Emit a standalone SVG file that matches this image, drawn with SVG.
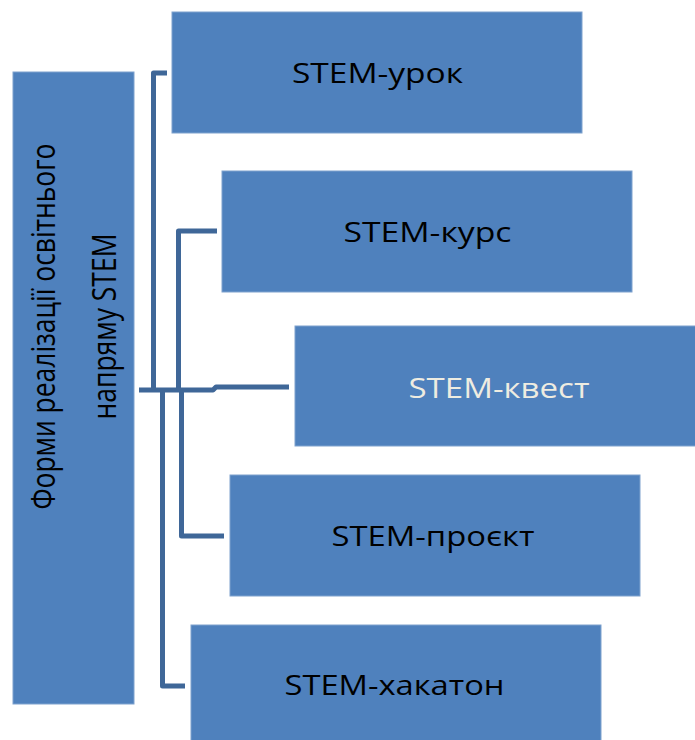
<svg xmlns="http://www.w3.org/2000/svg" width="695" height="740" viewBox="0 0 695 740">
<style>
.box{fill:#4F81BD;stroke:#7FA2CE;stroke-width:1}
.lbl{font-family:"Open Sans","Liberation Sans",sans-serif;font-size:28px;fill:#000;text-anchor:middle}
.vert{font-size:32px}
.light{fill:#EEECE1}
.conn{fill:none;stroke:#3F6798;stroke-width:5;stroke-linejoin:round}
</style>
<rect width="695" height="740" fill="#fff"/>
<g id="connectors">
<path class="conn" d="M139,390 H213 L216,387 H289"/>
<path class="conn" d="M153.5,390 V73 H167"/>
<path class="conn" d="M178.5,390 V231 H217"/>
<path class="conn" d="M181.5,390 V536 H224"/>
<path class="conn" d="M162.5,390 V686 H185"/>
</g>
<g id="root">
<rect class="box" x="13" y="72" width="121" height="632"/>
<text class="lbl vert" transform="translate(55,326.5) rotate(-90)" textLength="366" lengthAdjust="spacingAndGlyphs">Форми реалізації освітнього</text>
<text class="lbl vert" transform="translate(116,326.5) rotate(-90)" textLength="186" lengthAdjust="spacingAndGlyphs">напряму STEM</text>
</g>
<g id="n1">
<rect class="box" x="172" y="12" width="410" height="121"/>
<text class="lbl" x="377.5" y="83" textLength="171" lengthAdjust="spacingAndGlyphs">STEM-урок</text>
</g>
<g id="n2">
<rect class="box" x="222" y="171" width="410" height="121"/>
<text class="lbl" x="427.5" y="242" textLength="168" lengthAdjust="spacingAndGlyphs">STEM-курс</text>
</g>
<g id="n3">
<rect class="box" x="295" y="326" width="401" height="120"/>
<text class="lbl light" x="499" y="398" textLength="181" lengthAdjust="spacingAndGlyphs">STEM-квест</text>
</g>
<g id="n4">
<rect class="box" x="230" y="475" width="410" height="121"/>
<text class="lbl" x="433" y="546" textLength="203" lengthAdjust="spacingAndGlyphs">STEM-проєкт</text>
</g>
<g id="n5">
<rect class="box" x="191" y="625" width="410" height="120"/>
<text class="lbl" x="394.5" y="695" textLength="220" lengthAdjust="spacingAndGlyphs">STEM-хакатон</text>
</g>
</svg>
